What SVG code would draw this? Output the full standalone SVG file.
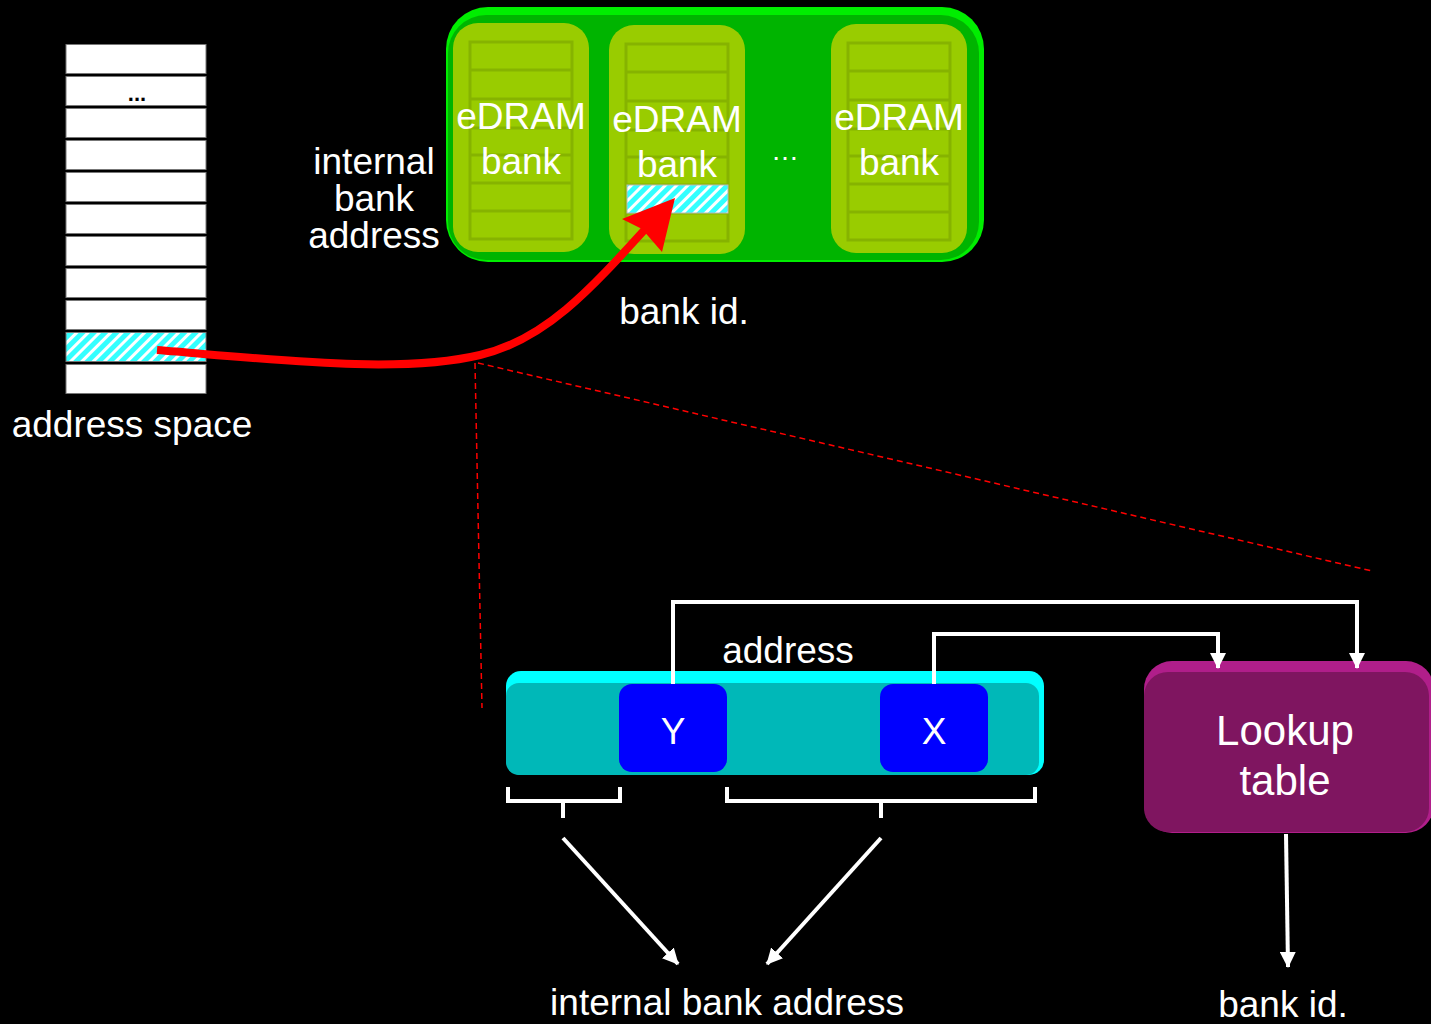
<svg xmlns="http://www.w3.org/2000/svg" width="1431" height="1024" viewBox="0 0 1431 1024">
<style>
  text { font-family: "Liberation Sans", Arial, sans-serif; fill: #ffffff; }
  .t36 { font-size: 37px; }
  .mid { text-anchor: middle; }
  .row { fill: #ffffff; stroke: #777777; stroke-width: 1; }
  .bank { fill: #99cc00; }
  .bankline { stroke: #86b300; stroke-width: 3; fill: none; }
  .wire { fill: none; stroke: #ffffff; stroke-width: 4; }
  .dash { fill: none; stroke: #ff0000; stroke-width: 1.5; stroke-dasharray: 6 4; }
</style>
<defs>
  <pattern id="hatch" patternUnits="userSpaceOnUse" width="8" height="8" patternTransform="rotate(45)">
    <rect width="8" height="8" fill="#33ffff"/>
    <rect x="0" y="0" width="3" height="8" fill="#ffffff"/>
  </pattern>
  <marker id="ah" viewBox="0 0 16 16" markerWidth="16" markerHeight="16" refX="15" refY="8" orient="auto" markerUnits="userSpaceOnUse">
    <path d="M0,0 L16,8 L0,16 z" fill="#ffffff"/>
  </marker>
</defs>
<rect width="1431" height="1024" fill="#000000"/>

<g id="address-space">
  <rect class="row" x="66" y="44.5" width="140" height="29"/>
  <rect class="row" x="66" y="76.5" width="140" height="29"/>
  <rect class="row" x="66" y="108.5" width="140" height="29"/>
  <rect class="row" x="66" y="140.5" width="140" height="29"/>
  <rect class="row" x="66" y="172.5" width="140" height="29"/>
  <rect class="row" x="66" y="204.5" width="140" height="29"/>
  <rect class="row" x="66" y="236.5" width="140" height="29"/>
  <rect class="row" x="66" y="268.5" width="140" height="29"/>
  <rect class="row" x="66" y="300.5" width="140" height="29"/>
  <rect x="66" y="332.5" width="140" height="29" fill="url(#hatch)" stroke="#777777" stroke-width="1"/>
  <rect class="row" x="66" y="364.5" width="140" height="29"/>
  <text x="137" y="101" class="mid" style="fill:#000000;font-size:22px;font-weight:bold">...</text>
  <text x="132" y="437" class="t36 mid">address space</text>
</g>

<g id="edram-group">
  <rect x="446" y="7" width="538" height="255" rx="42" fill="#00ee00"/>
  <rect x="448" y="15" width="531" height="245" rx="38" fill="#00b400"/>
  <text x="785" y="160" class="mid" style="font-size:28px">…</text>
</g>

<g id="bank1">
  <rect class="bank" x="453" y="23" width="136" height="229" rx="25"/>
  <rect class="bankline" x="470" y="42" width="102" height="197"/>
  <path class="bankline" d="M470,70H572M470,99H572M470,128H572M470,155H572M470,183H572M470,211H572"/>
  <text x="521" y="129" class="t36 mid">eDRAM</text>
  <text x="521" y="174" class="t36 mid">bank</text>
</g>

<g id="bank2">
  <rect class="bank" x="609" y="25" width="136" height="229" rx="25"/>
  <rect class="bankline" x="626" y="44" width="102" height="197"/>
  <path class="bankline" d="M626,72H728M626,101H728M626,130H728M626,157H728M626,185H728M626,213H728"/>
  <text x="677" y="132" class="t36 mid">eDRAM</text>
  <text x="677" y="177" class="t36 mid">bank</text>
  <rect x="627" y="185" width="101" height="28" fill="url(#hatch)" stroke="#bbbbbb" stroke-width="1"/>
</g>

<g id="bank3">
  <rect class="bank" x="831" y="24" width="136" height="229" rx="25"/>
  <rect class="bankline" x="848" y="43" width="102" height="197"/>
  <path class="bankline" d="M848,71H950M848,100H950M848,129H950M848,156H950M848,184H950M848,212H950"/>
  <text x="899" y="130" class="t36 mid">eDRAM</text>
  <text x="899" y="175" class="t36 mid">bank</text>
</g>

<g id="label-internal">
  <text x="374" y="174" class="t36 mid">internal</text>
  <text x="374" y="211" class="t36 mid">bank</text>
  <text x="374" y="248" class="t36 mid">address</text>
</g>

<g id="label-bankid-top">
  <text x="684" y="324" class="t36 mid">bank id.</text>
</g>

<g id="address-bar">
  <rect x="506" y="671" width="538" height="104" rx="15" fill="#00ffff"/>
  <rect x="506" y="683" width="533" height="92" rx="13" fill="#00b8b8"/>
  <text x="788" y="663" class="t36 mid">address</text>
</g>

<g id="field-Y">
  <rect x="619" y="684" width="108" height="88" rx="13" fill="#0000ff"/>
  <text x="673" y="744" class="t36 mid">Y</text>
</g>

<g id="field-X">
  <rect x="880" y="684" width="108" height="88" rx="13" fill="#0000ff"/>
  <text x="934" y="744" class="t36 mid">X</text>
</g>

<g id="lookup-table">
  <rect x="1144" y="661" width="290" height="172" rx="28" fill="#b01e8a"/>
  <rect x="1144" y="672" width="285" height="160" rx="24" fill="#7f1560"/>
  <text x="1285" y="745" class="mid" style="font-size:42px">Lookup</text>
  <text x="1285" y="795" class="mid" style="font-size:42px">table</text>
</g>

<g id="label-internal-bottom">
  <text x="727" y="1015" class="t36 mid">internal bank address</text>
</g>

<g id="label-bankid-bottom">
  <text x="1283" y="1017" class="t36 mid">bank id.</text>
</g>

<g id="connectors">
  <path class="dash" d="M475,363 L482,708"/>
  <path class="dash" d="M478,363 L1372,571"/>
  <path d="M157,350 C280,360 400,374 480,355 C545,340 590,290 648,226" fill="none" stroke="#ff0000" stroke-width="8"/>
  <polygon points="675,198 622,219 642,229 662,252" fill="#ff0000"/>
  <path class="wire" d="M673,684 V602 H1357 V668" marker-end="url(#ah)"/>
  <path class="wire" d="M934,684 V634 H1218 V668" marker-end="url(#ah)"/>
  <path class="wire" d="M1286,834 L1288,967" marker-end="url(#ah)"/>
  <path class="wire" d="M508,787 V801 H620 V787 M563,801 V818"/>
  <path class="wire" d="M727,787 V801 H1035 V787 M881,801 V818"/>
  <path class="wire" d="M563,838 L678,964" marker-end="url(#ah)"/>
  <path class="wire" d="M881,838 L767,964" marker-end="url(#ah)"/>
</g>
</svg>
